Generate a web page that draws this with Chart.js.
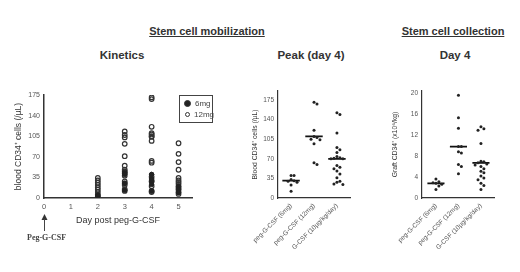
<!DOCTYPE html>
<html lang="en">
<head>
<meta charset="utf-8">
<title>Stem cell mobilization</title>
<script src="https://cdn.jsdelivr.net/npm/chart.js"></script>
<style>
  body { margin: 0; background: #fff; font-family: "Liberation Sans", Arial, sans-serif; color: #222; }
  #page { position: relative; width: 520px; height: 272px; overflow: hidden; }
  canvas { position: absolute; }
  .head { position: absolute; font-weight: bold; color: #333; white-space: nowrap; transform: translateX(-50%); }
  .u { text-decoration: underline; font-size: 11px; }
  .sub { font-size: 11.5px; }
  #legend { position: absolute; left: 179px; top: 95px; width: 32px; height: 26px; border: 1.3px solid #444; font-size: 8px; color: #444; }
  #legend div { position: absolute; left: 4px; height: 10px; line-height: 10px; white-space: nowrap; }
  #legend span { display: inline-block; width: 3px; height: 3px; border-radius: 50%; border: 1.2px solid #333; margin-right: 4px; vertical-align: middle; }
  #peg { position: absolute; left: 27px; top: 233px; font-family: "Liberation Serif", serif; font-size: 8px; font-weight: bold; color: #444; }
</style>
</head>
<body>
<div id="page">
  <div class="head u" style="left:207px; top:25px;">Stem cell mobilization</div>
  <div class="head u" style="left:453px; top:25px;">Stem cell collection</div>
  <div class="head sub" style="left:122px; top:49px;">Kinetics</div>
  <div class="head sub" style="left:311px; top:49px;">Peak (day 4)</div>
  <div class="head sub" style="left:455px; top:49px;">Day 4</div>

  <canvas id="kinetics" style="left:0; top:85px;" width="230" height="150"></canvas>
  <canvas id="peak" style="left:235px; top:85px;" width="125" height="187"></canvas>
  <canvas id="collect" style="left:370px; top:85px;" width="135" height="187"></canvas>

  <div id="legend">
    <div style="top:3px;"><span style="background:#222; width:5px; height:5px;"></span>6mg</div>
    <div style="top:14px;"><span style="margin-left:1px;"></span>12mg</div>
  </div>
  <svg style="position:absolute; left:40px; top:212px;" width="9" height="20">
    <polygon points="4.5,2 1.5,8 7.5,8" fill="#333"/>
    <line x1="4.5" y1="7" x2="4.5" y2="19" stroke="#444" stroke-width="1"/>
  </svg>
  <div id="peg">Peg-G-CSF</div>
</div>

<script>
// kinetics: blood CD34+ cells (/uL) per day after peg-G-CSF
const kinDays = [0, 1, 2, 3, 4, 5];
const kin6mgDay2 = [5, 2];
const kin6mgDay3 = [44, 42, 40, 25, 13];
const kin6mgDay4 = [40, 40, 33, 31, 30, 28, 23, 12];
const kin6mgDay5 = [20, 15, 9];
const kin12mgDay2 = [34, 30, 26, 22, 18, 14, 10, 6, 3, 0];
const kin12mgDay3 = [113, 107, 103, 92, 71, 55, 48, 45, 42, 38, 28, 25, 22, 15, 12];
const kin12mgDay4 = [171, 168, 121, 110, 108, 105, 104, 97, 63, 60, 36, 28, 20, 12, 10];
const kin12mgDay5 = [93, 75, 61, 48, 34, 30, 27, 24, 20, 17, 14, 10, 7];
const kinYTicks = [0, 35, 70, 105, 140, 175];

// peak (day 4) and graft collection
const groups = ['peg-G-CSF (6mg)', 'peg-G-CSF (12mg)', 'G-CSF (10\u00b5g/kg/day)'];
const peakPeg6 = [40, 40, 33, 31, 30, 28, 23, 12];
const peakPeg12 = [171, 168, 121, 110, 108, 105, 104, 97, 63, 60];
const peakGcsf = [152, 149, 116, 90, 86, 81, 74, 72, 71, 70, 70, 58, 55, 52, 48, 43, 36, 30, 28, 25, 24];
const peakLines = [31, 110, 70];
const peakYTicks = [0, 35, 70, 105, 140, 175];

const colPeg6 = [3.6, 3.1, 2.9, 2.8, 2.6, 2.3, 1.6];
const colPeg12 = [19.6, 15.3, 13.3, 9.8, 9.8, 8.8, 8.6, 6.4, 6.0, 4.6];
const colGcsf = [13.6, 13.2, 12.9, 10.4, 7.0, 6.9, 6.7, 6.5, 6.3, 6.0, 5.6, 5.1, 4.8, 4.2, 3.8, 3.5, 2.8, 2.4, 1.6];
const colLines = [2.8, 9.8, 6.7];
const colYTicks = [0, 4, 8, 12, 16, 20];

const axisColor = '#333';
const tickColor = '#555';

function dayPoints(day, vals) { return vals.map(v => ({ x: day, y: v })); }

// spread points of a column sideways when they would overlap
function swarm(idx, vals, range) {
  const placed = [];
  const step = 0.13, thr = range * 0.035;
  return vals.map(v => {
    const ks = [0, 1, -1, 2, -2, 3, -3];
    let off = 0;
    for (const k of ks) {
      const o = k * step;
      if (!placed.some(p => Math.abs(p.y - v) < thr && Math.abs(p.o - o) < step * 0.9)) { off = o; break; }
    }
    placed.push({ y: v, o: off });
    return { x: idx + off, y: v };
  });
}

function linePoints(lines) {
  const pts = [];
  lines.forEach((m, i) => {
    pts.push({ x: i - 0.38, y: m }, { x: i + 0.38, y: m }, { x: NaN, y: NaN });
  });
  return pts;
}

function fixWidth(w) { return s => { s.width = w; }; }
function fixHeight(h) { return s => { s.height = h; }; }
function keepTicks(list) { return s => { s.ticks = list.map(v => ({ value: v })); }; }
const plainLabel = v => String(v);

// Kinetics
const kinOpen = [].concat(dayPoints(2, kin12mgDay2), dayPoints(3, kin12mgDay3), dayPoints(4, kin12mgDay4), dayPoints(5, kin12mgDay5));
const kinFilled = [].concat(dayPoints(2, kin6mgDay2), dayPoints(3, kin6mgDay3), dayPoints(4, kin6mgDay4), dayPoints(5, kin6mgDay5));

new Chart(document.getElementById('kinetics'), {
  type: 'scatter',
  data: {
    datasets: [{
      label: '6mg', data: kinFilled,
      pointRadius: 2.2, backgroundColor: '#222', borderColor: '#222', borderWidth: 1
    }, {
      label: '12mg', data: kinOpen,
      pointRadius: 2.3, backgroundColor: 'rgba(255,255,255,0)', borderColor: '#333', borderWidth: 1.2
    }]
  },
  options: {
    responsive: false, animation: false,
    layout: { padding: { top: 10, right: 38, left: 0, bottom: 9 } },
    plugins: { legend: { display: false }, tooltip: { enabled: false } },
    scales: {
      x: {
        type: 'linear', min: 0, max: 5.5,
        afterBuildTicks: keepTicks(kinDays),
        afterFit: fixHeight(28),
        grid: { display: false, drawTicks: true, tickLength: 3, tickColor: axisColor },
        border: { color: axisColor, width: 1.5 },
        ticks: { color: tickColor, font: { size: 7.5 }, padding: 1, autoSkip: false, callback: plainLabel },
        title: { display: true, text: 'Day post peg-G-CSF', color: '#333', font: { size: 9 }, padding: { top: 2, bottom: 0 } }
      },
      y: {
        min: 0, max: 175,
        afterBuildTicks: keepTicks(kinYTicks),
        afterFit: fixWidth(44),
        grid: { display: false, drawTicks: true, tickLength: 3, tickColor: axisColor },
        border: { color: axisColor, width: 1.5 },
        ticks: { color: tickColor, font: { size: 7 }, padding: 1, autoSkip: false, callback: plainLabel },
        title: { display: true, text: 'blood CD34\u207a cells (/\u00b5L)', color: '#333', font: { size: 8.5 }, padding: { top: 14, bottom: 0 } }
      }
    }
  }
});

function dotChart(id, sets, lines, yMax, yTicks, yTitle, range, xMin, xMax, yWidth, titlePad, padRight, top) {
  const dots = [].concat(...sets.map((s, i) => swarm(i, s, range)));
  new Chart(document.getElementById(id), {
    type: 'scatter',
    data: {
      datasets: [{
        data: dots, pointRadius: 1.5, backgroundColor: '#222', borderColor: '#222', borderWidth: 0
      }, {
        data: linePoints(lines), showLine: true, spanGaps: false, pointRadius: 0,
        borderColor: '#111', borderWidth: 1.8
      }]
    },
    options: {
      responsive: false, animation: false,
      layout: { padding: { top: top, right: padRight, left: 0, bottom: 0 } },
      plugins: { legend: { display: false }, tooltip: { enabled: false } },
      scales: {
        x: {
          type: 'linear', min: xMin, max: xMax,
          afterBuildTicks: keepTicks([0, 1, 2]),
          afterFit: fixHeight(74),
          grid: { display: false, drawTicks: true, tickLength: 3, tickColor: axisColor },
          border: { color: axisColor, width: 1.2 },
          ticks: {
            color: tickColor, font: { size: 6.5 }, padding: 1,
            minRotation: 45, maxRotation: 45, autoSkip: false,
            callback: v => groups[v]
          }
        },
        y: {
          min: 0, max: yMax,
          afterBuildTicks: keepTicks(yTicks),
          afterFit: fixWidth(yWidth),
          grid: { display: false, drawTicks: true, tickLength: 3, tickColor: axisColor },
          border: { color: axisColor, width: 1.2 },
          ticks: { color: tickColor, font: { size: 6.5 }, padding: 1, autoSkip: false, callback: plainLabel },
          title: { display: true, text: yTitle, color: '#333', font: { size: 6.8 }, padding: { top: titlePad, bottom: 0 } }
        }
      }
    }
  });
}

dotChart('peak', [peakPeg6, peakPeg12, peakGcsf], peakLines, 191, peakYTicks,
  'Blood CD34\u207a cells (/\u00b5L)', 191, -0.57, 2.57, 43, 16, 10, 6);
dotChart('collect', [colPeg6, colPeg12, colGcsf], colLines, 20.4, colYTicks,
  'Graft CD34\u207a (x10\u2076/kg)', 20.4, -0.62, 2.58, 52, 21, 11, 6);
</script>
</body>
</html>
